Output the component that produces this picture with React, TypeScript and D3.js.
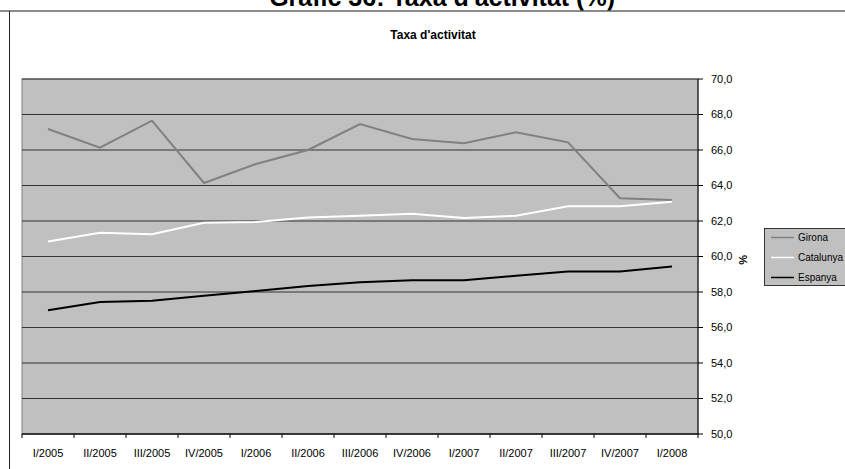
import React from "react";
import * as d3 from "d3";

const categories = ["I/2005","II/2005","III/2005","IV/2005","I/2006","II/2006","III/2006","IV/2006","I/2007","II/2007","III/2007","IV/2007","I/2008"];
const girona = [67.18,66.13,67.65,64.14,65.21,66.0,67.46,66.62,66.38,67.0,66.43,63.28,63.18];
const catalunya = [60.84,61.34,61.25,61.9,61.94,62.2,62.3,62.41,62.17,62.3,62.83,62.83,63.09];
const espanya = [56.97,57.44,57.51,57.79,58.06,58.34,58.55,58.66,58.66,58.92,59.15,59.15,59.43];
const yTicks = [50,52,54,56,58,60,62,64,66,68,70];
const seriesNames = ["Girona","Catalunya","Espanya"];
const seriesColors = ["#808080","#ffffff","#000000"];

export default function App() {
  const W = 845, H = 469;
  const left = 22, right = 698, top = 79, bottom = 434;
  const x = d3.scaleBand().domain(categories).range([left, right]);
  const y = d3.scaleLinear().domain([50, 70]).range([bottom, top]);
  const line = d3.line<number>().x((_, i) => (x(categories[i]) as number) + x.bandwidth() / 2).y(d => y(d));
  const data = [girona, catalunya, espanya];
  const fmt = (v: number) => v.toFixed(1).replace(".", ",");
  const font = "'Liberation Sans', Arial, sans-serif";
  return (
    <svg width={W} height={H} style={{ position: "absolute", left: 0, top: 0 }} fontFamily={font}>
      <rect x={0} y={0} width={W} height={H} fill="#fff" />
      <text x={615} y={6} textAnchor="end" fontSize={25} fontWeight="bold" fill="#000">Gràfic 36: Taxa d'activitat (%)</text>
      <line x1={0} x2={W} y1={11} y2={11} stroke="#666" strokeWidth={1.5} />
      <line x1={9.5} x2={9.5} y1={11} y2={H} stroke="#222" strokeWidth={1} />
      <text x={433} y={39} textAnchor="middle" fontSize={12} fontWeight="bold" fill="#000">Taxa d'activitat</text>
      <rect x={left} y={top} width={right - left} height={bottom - top} fill="#c0c0c0" stroke="#808080" strokeWidth={1} />
      {yTicks.map(t => (
        <line key={"g" + t} x1={left} x2={right} y1={y(t)} y2={y(t)} stroke="#333" strokeWidth={1} />
      ))}
      {data.map((d, i) => (
        <path key={i} d={line(d) || ""} fill="none" stroke={seriesColors[i]} strokeWidth={2} />
      ))}
      <line x1={right} x2={right} y1={top} y2={bottom} stroke="#000" strokeWidth={1} />
      <line x1={left} x2={right} y1={bottom} y2={bottom} stroke="#000" strokeWidth={1} />
      {yTicks.map(t => (
        <g key={"t" + t}>
          <line x1={right} x2={right + 5} y1={y(t)} y2={y(t)} stroke="#000" />
          <text x={711} y={y(t)} dy="0.35em" fontSize={11} fill="#000">{fmt(t)}</text>
        </g>
      ))}
      {d3.range(categories.length + 1).map(i => (
        <line key={"xt" + i} x1={left + i * x.bandwidth()} x2={left + i * x.bandwidth()} y1={bottom} y2={bottom + 4} stroke="#000" />
      ))}
      {categories.map(c => (
        <text key={c} x={(x(c) as number) + x.bandwidth() / 2} y={453} dy="0.35em" textAnchor="middle" fontSize={11} fill="#000">{c}</text>
      ))}
      <text transform={`translate(743,260) rotate(90)`} textAnchor="middle" dy="0.35em" fontSize={11} fontWeight="bold" fill="#000">%</text>
      <rect x={764.5} y={228.5} width={90} height={57} fill="#c0c0c0" stroke="#333" strokeWidth={1} />
      {seriesNames.map((n, i) => (
        <g key={n}>
          <line x1={771} x2={794} y1={237.5 + i * 20} y2={237.5 + i * 20} stroke={seriesColors[i]} strokeWidth={1.5} />
          <text x={798} y={237.5 + i * 20} dy="0.35em" fontSize={10} fill="#000">{n}</text>
        </g>
      ))}
    </svg>
  );
}
